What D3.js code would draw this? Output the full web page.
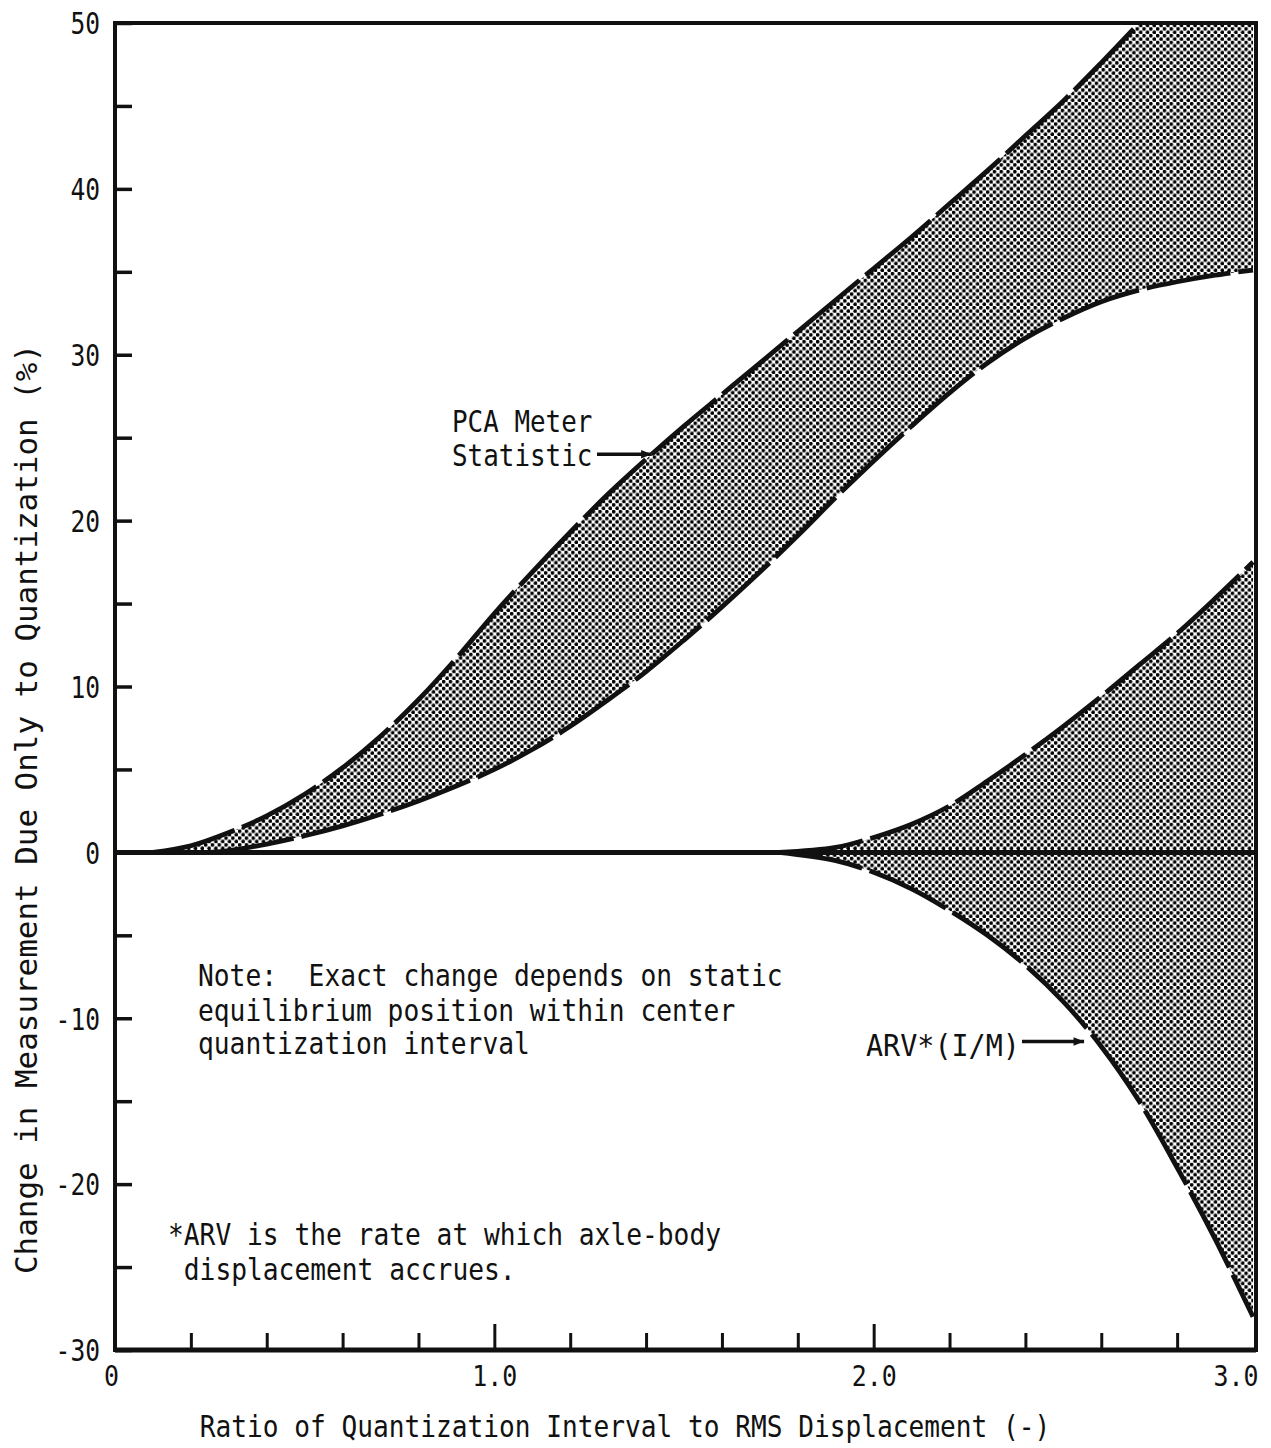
<!DOCTYPE html>
<html>
<head>
<meta charset="utf-8">
<script src="https://cdn.jsdelivr.net/npm/d3@7"></script>
<style>
  html, body { margin: 0; padding: 0; background: #fff; }
  svg { display: block; }
  text { font-family: "DejaVu Sans Mono", "Liberation Mono", monospace; fill: #111; }
</style>
</head>
<body>
<div id="chart"></div>
<script>
// ---------- data ----------
const pcaUpperX = [0.10, 0.20, 0.30, 0.40, 0.50, 0.60, 0.70, 0.80, 0.90, 1.00, 1.10, 1.20, 1.30, 1.40, 1.50, 1.60, 1.70, 1.80, 1.90, 2.00, 2.10, 2.20, 2.30, 2.40, 2.50, 2.60, 2.70];
const pcaUpperY = [0.0, 0.4, 1.2, 2.2, 3.5, 5.1, 7.0, 9.2, 11.7, 14.4, 16.9, 19.3, 21.6, 23.7, 25.7, 27.6, 29.5, 31.4, 33.3, 35.2, 37.1, 39.1, 41.1, 43.2, 45.3, 47.6, 50.0];

const pcaLowerX = [0.25, 0.30, 0.40, 0.50, 0.60, 0.70, 0.80, 0.90, 1.00, 1.10, 1.20, 1.30, 1.40, 1.50, 1.60, 1.70, 1.80, 1.90, 2.00, 2.10, 2.20, 2.30, 2.40, 2.50, 2.60, 2.70, 2.80, 2.90, 3.00];
const pcaLowerY = [0.0, 0.1, 0.5, 1.0, 1.6, 2.3, 3.1, 4.0, 5.0, 6.2, 7.6, 9.2, 10.9, 12.8, 14.8, 16.9, 19.1, 21.4, 23.6, 25.7, 27.7, 29.5, 31.0, 32.2, 33.2, 33.9, 34.4, 34.8, 35.1];

const arvUpperX = [1.75, 1.90, 2.00, 2.10, 2.20, 2.30, 2.40, 2.50, 2.60, 2.70, 2.80, 2.90, 3.00];
const arvUpperY = [0.0, 0.3, 0.9, 1.7, 2.8, 4.3, 5.9, 7.6, 9.4, 11.3, 13.2, 15.3, 17.5];

const arvLowerX = [1.75, 1.90, 2.00, 2.10, 2.20, 2.30, 2.40, 2.50, 2.60, 2.70, 2.80, 2.90, 3.00];
const arvLowerY = [0.0, -0.5, -1.2, -2.2, -3.5, -5.0, -6.8, -9.0, -11.7, -15.0, -19.0, -23.3, -28.0];

const yTickValues = [-30, -25, -20, -15, -10, -5, 0, 5, 10, 15, 20, 25, 30, 35, 40, 45, 50];
const yTickLabels = ["-30", "", "-20", "", "-10", "", "0", "", "10", "", "20", "", "30", "", "40", "", "50"];
const xTickValues = [0, 0.2, 0.4, 0.6, 0.8, 1.0, 1.2, 1.4, 1.6, 1.8, 2.0, 2.2, 2.4, 2.6, 2.8, 3.0];
const xTickLabels = ["0", "", "", "", "", "1.0", "", "", "", "", "2.0", "", "", "", "", "3.0"];

const xTitle = "Ratio of Quantization Interval to RMS Displacement (-)";
const yTitle = "Change in Measurement Due Only to Quantization (%)";
const pcaLabel = ["PCA Meter", "Statistic"];
const pcaArrowAt = [1.42, 24.0];
const arvLabel = "ARV*(I/M)";
const arvArrowAt = [2.56, -11.4];
const noteLines = ["Note:  Exact change depends on static", "equilibrium position within center", "quantization interval"];
const footLines = ["*ARV is the rate at which axle-body", " displacement accrues."];

// ---------- layout ----------
const W = 1271, H = 1448;
const x = d3.scaleLinear().domain([0, 3]).range([115, 1253]);
const y = d3.scaleLinear().domain([-30, 50]).range([1350, 23]);

const svg = d3.select("#chart").append("svg").attr("width", W).attr("height", H);
const defs = svg.append("defs");
const pat = defs.append("pattern").attr("id", "dots").attr("patternUnits", "userSpaceOnUse")
  .attr("width", 6.8).attr("height", 6.8);
pat.append("circle").attr("cx", 1.7).attr("cy", 1.7).attr("r", 1.85).attr("fill", "#000");
pat.append("circle").attr("cx", 5.1).attr("cy", 5.1).attr("r", 1.85).attr("fill", "#000");
defs.append("clipPath").attr("id", "plotclip").append("rect")
  .attr("x", x(0)).attr("y", y(50)).attr("width", x(3) - x(0) + 3).attr("height", y(-30) - y(50));
const mk = defs.append("marker").attr("id", "arrow").attr("viewBox", "0 0 10 10")
  .attr("refX", 10).attr("refY", 5).attr("markerWidth", 4.5).attr("markerHeight", 3)
  .attr("markerUnits", "strokeWidth").attr("orient", "auto");
mk.append("path").attr("d", "M0,1 L10,5 L0,9 Z").attr("fill", "#111");

const pts = (xs, ys) => xs.map((v, i) => [v, ys[i]]);
const line = d3.line().x(d => x(d[0])).y(d => y(d[1])).curve(d3.curveCatmullRom.alpha(0.5));

const pcaU = pts(pcaUpperX, pcaUpperY);
const pcaL = pts(pcaLowerX, pcaLowerY);
const arvU = pts(arvUpperX, arvUpperY);
const arvL = pts(arvLowerX, arvLowerY);

const plot = svg.append("g").attr("clip-path", "url(#plotclip)");

// shaded bands
const pcaPath = line(pcaU) + "L" + x(3) + "," + y(50) + "L" + line(pcaL.slice().reverse()).slice(1) + "Z";
plot.append("path").attr("d", pcaPath).attr("fill", "url(#dots)").attr("stroke", "none");
const arvPath = line(arvU) + "L" + line(arvL.slice().reverse()).slice(1) + "Z";
plot.append("path").attr("d", arvPath).attr("fill", "url(#dots)").attr("stroke", "none");

// zero line
plot.append("line").attr("x1", x(0)).attr("x2", x(3) + 3).attr("y1", y(0)).attr("y2", y(0))
  .attr("stroke", "#111").attr("stroke-width", 5);

// dashed boundary curves
[pcaU, pcaL, arvU, arvL].forEach(d => {
  plot.append("path").attr("d", line(d)).attr("fill", "none").attr("stroke", "#111")
    .attr("stroke-width", 4.8).attr("stroke-dasharray", "85,8");
});

// frame
svg.append("rect").attr("x", x(0)).attr("y", y(50)).attr("width", x(3) - x(0) + 3).attr("height", y(-30) - y(50))
  .attr("fill", "none").attr("stroke", "#111").attr("stroke-width", 4);
svg.append("line").attr("x1", x(0)).attr("x2", x(3) + 3).attr("y1", y(-30)).attr("y2", y(-30))
  .attr("stroke", "#111").attr("stroke-width", 5);

// axes
const yAxis = d3.axisLeft(y).tickValues(yTickValues).tickSizeInner(-17).tickSizeOuter(0).tickPadding(15)
  .tickFormat((d, i) => yTickLabels[i]);
const gy = svg.append("g").attr("transform", `translate(${x(0)},0)`).call(yAxis);
gy.select(".domain").remove();
gy.selectAll(".tick line").attr("stroke", "#111").attr("stroke-width", 3.5);
gy.selectAll(".tick text").attr("font-size", 30).attr("font-family", "DejaVu Sans Mono")
  .attr("dy", "0.36em").attr("fill", "#111")
  .each(function () { const t = d3.select(this).text(); if (t) d3.select(this).attr("textLength", t.length * 14.8).attr("lengthAdjust", "spacingAndGlyphs"); });

const xAxis = d3.axisBottom(x).tickValues(xTickValues).tickSizeInner(-17).tickSizeOuter(0).tickPadding(15)
  .tickFormat((d, i) => xTickLabels[i]);
const gx = svg.append("g").attr("transform", `translate(0,${y(-30)})`).call(xAxis);
gx.select(".domain").remove();
gx.selectAll(".tick line").attr("stroke", "#111").attr("stroke-width", 3)
  .attr("y2", d => (Math.abs(d - Math.round(d)) < 1e-9 && d > 0 && d < 3) ? -26 : (d === 0 || d === 3 ? 0 : -17));
gx.selectAll(".tick text").attr("font-size", 29).attr("font-family", "DejaVu Sans Mono").attr("fill", "#111")
  .attr("dy", "0.72em")
  .each(function (d) {
    const t = d3.select(this).text();
    if (t) d3.select(this).attr("textLength", t.length * 15).attr("lengthAdjust", "spacingAndGlyphs");
    if (d === 3) d3.select(this).attr("text-anchor", "end").attr("x", 5);
    if (d === 0) d3.select(this).attr("x", -4);
  });

// text helper
function label(s, px, py, size, perChar, opts = {}) {
  const t = svg.append("text").attr("x", px).attr("y", py).attr("font-size", size)
    .attr("text-anchor", opts.anchor || "start").attr("xml:space", "preserve")
    .style("white-space", "pre").text(s)
    .attr("textLength", s.length * perChar).attr("lengthAdjust", "spacingAndGlyphs");
  if (opts.rotate) t.attr("transform", `rotate(${opts.rotate},${px},${py})`);
  return t;
}

// axis titles
label(xTitle, 625, 1437, 30, 15.75, { anchor: "middle" });
label(yTitle, 37, 809, 30, 18.6, { anchor: "middle", rotate: -90 });

// PCA annotation
label(pcaLabel[0], 452, 432, 30, 15.6);
label(pcaLabel[1], 452, 466, 30, 15.6);
svg.append("line").attr("x1", 597).attr("y1", y(pcaArrowAt[1])).attr("x2", x(pcaArrowAt[0]) - 2).attr("y2", y(pcaArrowAt[1]))
  .attr("stroke", "#111").attr("stroke-width", 3.5).attr("marker-end", "url(#arrow)");

// ARV annotation
label(arvLabel, 866, 1056, 30, 17.1);
svg.append("line").attr("x1", 1022).attr("y1", y(arvArrowAt[1])).attr("x2", x(arvArrowAt[0]) - 2).attr("y2", y(arvArrowAt[1]))
  .attr("stroke", "#111").attr("stroke-width", 3.5).attr("marker-end", "url(#arrow)");

// notes
label(noteLines[0], 198, 986, 30, 15.8);
label(noteLines[1], 198, 1021, 30, 15.8);
label(noteLines[2], 198, 1054, 30, 15.8);
label(footLines[0], 168, 1245, 30, 15.8);
label(footLines[1], 168, 1280, 30, 15.8);
</script>
</body>
</html>
